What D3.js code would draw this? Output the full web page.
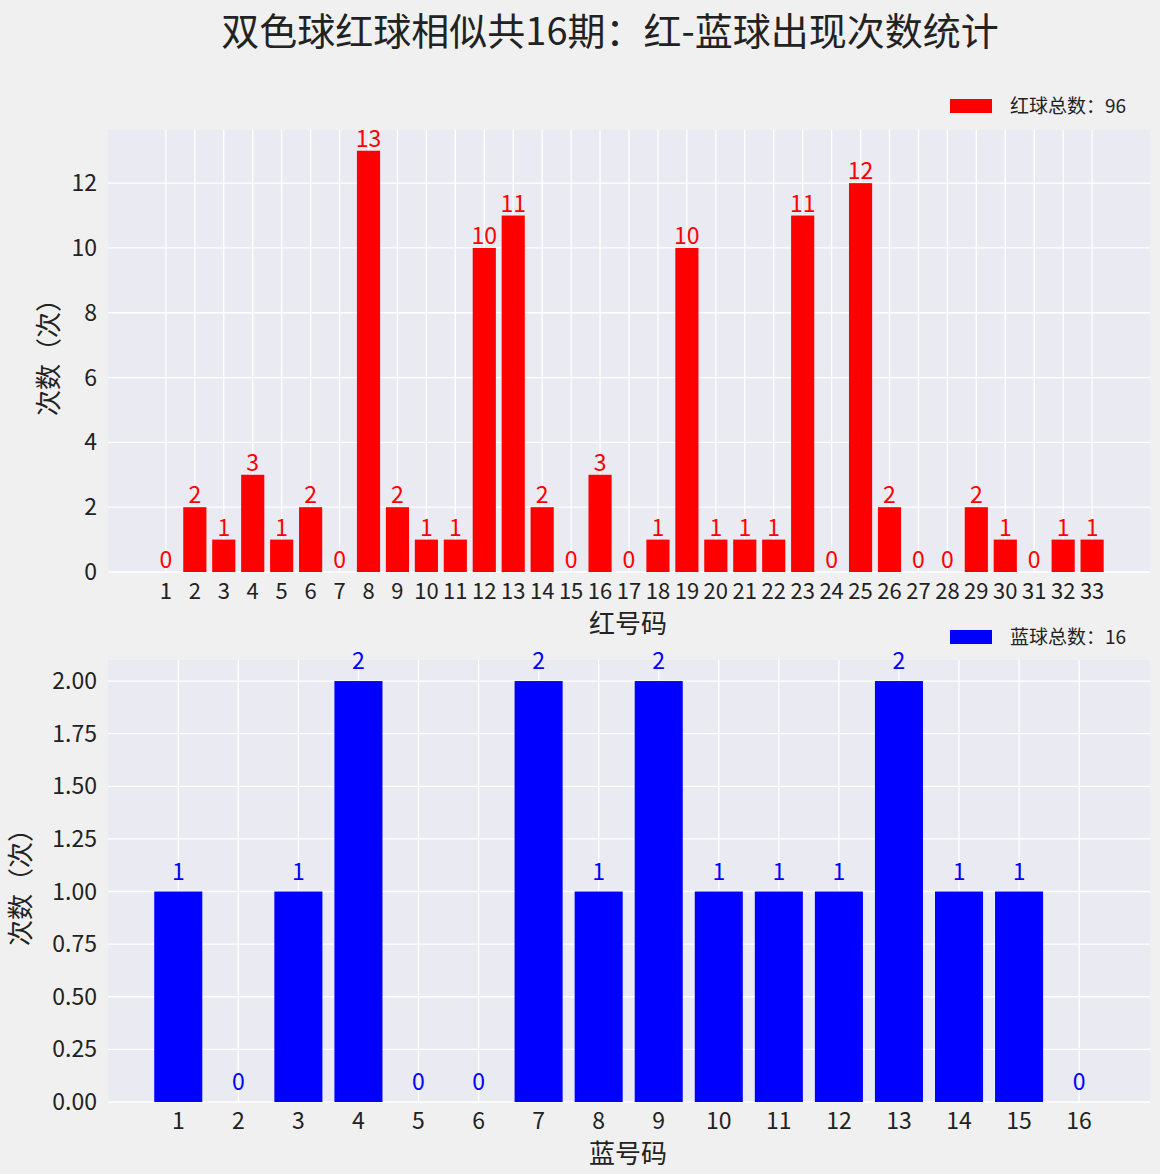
<!DOCTYPE html>
<html><head><meta charset="utf-8">
<script src="https://cdn.jsdelivr.net/npm/d3@7"></script>
<style>body{margin:0;background:#f0f0f0}svg{display:block}text{font-family:"Noto Sans CJK SC",sans-serif}</style>
</head><body>
<script>
var redNums = d3.range(1, 34);
var redCounts = [0,2,1,3,1,2,0,13,2,1,1,10,11,2,0,3,0,1,10,1,1,1,11,0,12,2,0,0,2,1,0,1,1];
var blueNums = d3.range(1, 17);
var blueCounts = [1,0,1,2,0,0,2,1,2,1,1,1,2,1,1,0];
var redTicks = [0,2,4,6,8,10,12];
var blueTicks = [0,0.25,0.5,0.75,1,1.25,1.5,1.75,2];

var svg = d3.select("body").append("svg").attr("width",1160).attr("height",1174);
svg.append("text").attr("x",610).attr("y",45).attr("text-anchor","middle")
  .attr("font-size",38).attr("fill","#222").text("双色球红球相似共16期：红-蓝球出现次数统计");

function panel(o){
  var g = svg.append("g");
  var x = d3.scaleLinear().domain(o.xd).range([108,1150]);
  var y = d3.scaleLinear().domain(o.yd).range([o.y1,o.y0]);
  g.append("rect").attr("x",108).attr("y",o.y0).attr("width",1042).attr("height",o.y1-o.y0).attr("fill","#eaeaf2");
  g.selectAll(".gy").data(o.yt).enter().append("line")
    .attr("x1",108).attr("x2",1150).attr("y1",d=>y(d)).attr("y2",d=>y(d)).attr("stroke","#fff").attr("stroke-width",1.3);
  g.selectAll(".gx").data(o.nums).enter().append("line")
    .attr("y1",o.y0).attr("y2",o.y1).attr("x1",d=>x(d)).attr("x2",d=>x(d)).attr("stroke","#fff").attr("stroke-width",1.3);
  var bw = (x(1)-x(0))*0.8;
  g.selectAll(".b").data(o.counts).enter().append("rect")
    .attr("x",(d,i)=>x(o.nums[i])-bw/2).attr("width",bw)
    .attr("y",d=>y(d)).attr("height",d=>y(0)-y(d)).attr("fill",o.color);
  g.selectAll(".v").data(o.counts).enter().append("text")
    .attr("x",(d,i)=>x(o.nums[i])).attr("y",d=>y(d)+o.voff).attr("text-anchor","middle")
    .attr("font-size",23).attr("fill",o.color).text(d=>d);
  g.selectAll(".tx").data(o.nums).enter().append("text")
    .attr("x",d=>x(d)).attr("y",o.y1+27).attr("text-anchor","middle").attr("font-size",o.tfs).attr("fill","#222").text(d=>d);
  g.selectAll(".ty").data(o.yt).enter().append("text")
    .attr("x",97).attr("y",d=>y(d)+8).attr("text-anchor","end").attr("font-size",23).attr("fill","#222").text(o.fmt);
  g.append("text").attr("x",628).attr("y",o.y1+61).attr("text-anchor","middle").attr("font-size",26).attr("fill","#222").text(o.xl);
  g.append("text").attr("transform","translate("+o.ylx+","+((o.y0+o.y1)/2)+") rotate(-90)")
    .attr("text-anchor","middle").attr("font-size",26).attr("fill","#222").text("次数（次）");
  g.append("rect").attr("x",950).attr("y",o.ly-7).attr("width",42).attr("height",14).attr("fill",o.color);
  g.append("text").attr("x",1010).attr("y",o.ly+7).attr("font-size",19).attr("fill","#222").text(o.leg);
}
panel({xd:[-1,35],nums:redNums,counts:redCounts,color:"red",yd:[0,13.64],y0:130,y1:572,yt:redTicks,
  fmt:d=>d,xl:"红号码",ylx:58,ly:106,leg:"红球总数：96",voff:-4,tfs:22});
panel({xd:[1-1.17,16+1.18],nums:blueNums,counts:blueCounts,color:"blue",yd:[0,2.1],y0:660,y1:1102,yt:blueTicks,
  fmt:d3.format(".2f"),xl:"蓝号码",ylx:30,ly:637,leg:"蓝球总数：16",voff:-12,tfs:23});
</script>
</body></html>
